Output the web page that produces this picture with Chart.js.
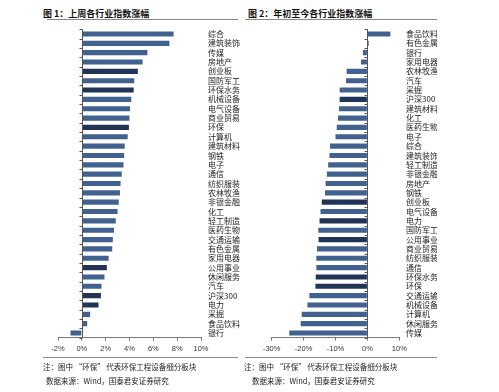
<!DOCTYPE html>
<html>
<head>
<meta charset="utf-8">
<script src="https://cdn.jsdelivr.net/npm/chart.js@4"></script>
<style>
  body { margin: 0; background: #fff; width: 499px; height: 392px; position: relative; overflow: hidden; font-family: "Noto Sans CJK SC", sans-serif; }
  canvas { position: absolute; top: 0; }
  .txt { position: absolute; white-space: nowrap; color: #222; }
  .title { font-size: 9px; font-weight: bold; color: #111; }
  .note { font-size: 7.5px; }
  .rule { position: absolute; height: 1px; background: #888; }
</style>
</head>
<body>
<div class="txt title" style="left:43px;top:7px;">图 1：上周各行业指数涨幅</div>
<div class="txt title" style="left:248px;top:7px;">图 2：年初至今各行业指数涨幅</div>
<div class="rule" style="left:47px;top:19px;width:191px;"></div>
<div class="rule" style="left:245px;top:19px;width:192px;"></div>

<canvas id="barChart1" width="245" height="360" style="left:0px;"></canvas>
<canvas id="barChart2" width="192" height="360" style="left:245px;"></canvas>

<div class="rule" style="left:43px;top:357px;width:195px;"></div>
<div class="rule" style="left:245px;top:357px;width:192px;"></div>
<div class="txt note" style="left:43px;top:361px;">注：图中 “环保” 代表环保工程设备细分板块</div>
<div class="txt note" style="left:244px;top:361px;">注：图中 “环保” 代表环保工程设备细分板块</div>
<div class="txt note" style="left:46px;top:375px;">数据来源：Wind，国泰君安证券研究</div>
<div class="txt note" style="left:252px;top:375px;">数据来源：Wind，国泰君安证券研究</div>

<script>
// last week
let weekLabels = ['综合', '建筑装饰', '传媒', '房地产', '创业板', '国防军工', '环保水务', '机械设备', '电气设备', '商业贸易',
    '环保', '计算机', '建筑材料', '钢铁', '电子', '通信', '纺织服装', '农林牧渔', '非银金融', '化工',
    '轻工制造', '医药生物', '交通运输', '有色金属', '家用电器', '公用事业', '休闲服务', '汽车', '沪深300', '电力',
    '采掘', '食品饮料', '银行'];
let weekValues = [7.7, 7.35, 5.5, 5.1, 4.7, 4.4, 4.35, 4.15, 4.05, 4.0,
    3.95, 3.85, 3.6, 3.55, 3.5, 3.35, 3.25, 3.2, 3.1, 3.0,
    2.85, 2.7, 2.6, 2.55, 2.25, 2.1, 1.9, 1.65, 1.6, 1.4,
    0.7, 0.45, -0.95];
let weekTicks = [-2, 0, 2, 4, 6, 8, 10];

// year to date
let ytdLabels = ['食品饮料', '有色金属', '银行', '家用电器', '农林牧渔', '汽车', '采掘', '沪深300', '建筑材料', '化工',
    '医药生物', '电子', '综合', '建筑装饰', '轻工制造', '非银金融', '房地产', '钢铁', '创业板', '电气设备',
    '电力', '国防军工', '公用事业', '商业贸易', '纺织服装', '通信', '环保水务', '环保', '交通运输', '机械设备',
    '计算机', '休闲服务', '传媒'];
let ytdValues = [7.2, 0.4, -1.4, -2.0, -6.5, -6.7, -8.7, -8.7, -8.9, -9.2,
    -9.6, -10.0, -11.7, -11.9, -12.3, -12.7, -13.1, -13.3, -14.3, -14.7,
    -15.0, -15.4, -15.3, -15.8, -16.0, -16.0, -16.2, -16.3, -18.2, -18.8,
    -20.6, -20.9, -24.5];
let ytdTicks = [-30, -20, -10, 0, 10];

// darker bars
let darkLabels = ['创业板', '环保水务', '环保', '公用事业', '沪深300', '电力'];

let barBlue = '#41618f';
let barDark = '#1f3456';

// zero line with small ticks between categories
let zeroLine = {
    id: 'zeroLine',
    afterDatasetsDraw(chart) {
        let c = chart.ctx;
        let area = chart.chartArea;
        let x0 = Math.round(chart.scales.x.getPixelForValue(0)) + 0.5;
        let n = chart.data.labels.length;
        c.save();
        c.strokeStyle = '#555';
        c.lineWidth = 1;
        c.beginPath();
        c.moveTo(x0, area.top);
        c.lineTo(x0, area.bottom);
        for (let i = 0; i <= n; i++) {
            let y = Math.round(area.top + i * (area.bottom - area.top) / n) + 0.5;
            c.moveTo(x0 - 3, y);
            c.lineTo(x0, y);
        }
        c.stroke();
        c.restore();
    }
};

function makeChart(id, labels, values, ticks, pad, yWidth, labelPad) {
    let colors = labels.map(l => darkLabels.includes(l) ? barDark : barBlue);
    return new Chart(document.getElementById(id).getContext('2d'), {
        type: 'bar',
        data: {
            labels: labels,
            datasets: [{
                data: values,
                backgroundColor: colors,
                borderWidth: 0,
                barPercentage: 0.55,
                categoryPercentage: 1
            }]
        },
        options: {
            indexAxis: 'y',
            responsive: false,
            animation: false,
            layout: { padding: { left: pad, top: 29.3, right: 0, bottom: 0 } },
            plugins: { legend: { display: false }, tooltip: { enabled: false } },
            scales: {
                x: {
                    min: ticks[0],
                    max: ticks[ticks.length - 1],
                    afterBuildTicks: s => { s.ticks = ticks.map(v => ({ value: v })); },
                    afterFit: s => { s.height = 22.3; },
                    grid: { drawOnChartArea: false, drawTicks: true, tickLength: 3, color: '#777' },
                    border: { display: true, color: '#777' },
                    ticks: {
                        padding: 4,
                        color: '#333',
                        font: { family: 'Liberation Sans', size: 7.5 },
                        callback: v => v + '%'
                    }
                },
                y: {
                    position: 'right',
                    afterFit: s => { s.width = yWidth; },
                    grid: { display: false, drawTicks: false },
                    border: { display: false },
                    ticks: {
                        autoSkip: false,
                        padding: labelPad,
                        color: '#222',
                        font: { family: 'Noto Sans CJK SC', size: 8 }
                    }
                }
            }
        },
        plugins: [zeroLine]
    });
}

let myChart = makeChart('barChart1', weekLabels, weekValues, weekTicks, 58, 44, 7);
let myChart2 = makeChart('barChart2', ytdLabels, ytdValues, ytdTicks, 26.7, 37.7, 6.7);
</script>
</body>
</html>
